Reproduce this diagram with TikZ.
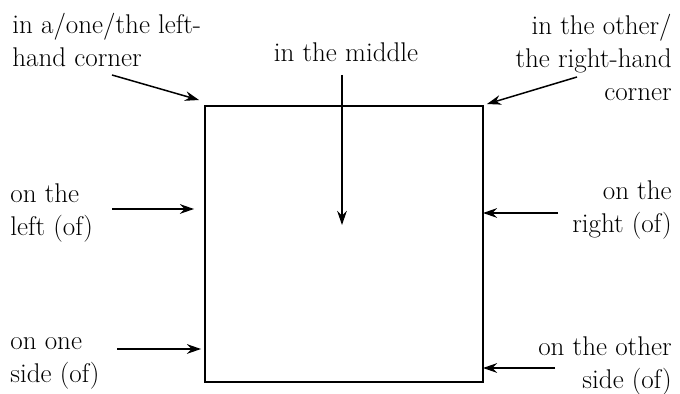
\documentclass[tikz,border=0pt]{standalone}
\usepackage{tikz}
\usetikzlibrary{arrows.meta,positioning,calc}

\begin{document}
\begin{tikzpicture}[
    x=0.02cm, y=-0.02cm,
    box/.style={rectangle, draw=black, line width=0.8pt, minimum width=5.56cm, minimum height=5.52cm, inner sep=0pt, outer sep=0pt},
    lbl/.style={inner sep=0pt, font=\fontsize{15.4}{18.8}\selectfont},
    arrow/.style={-{Stealth[length=8pt,width=5.5pt]}, line width=0.85pt}
]
\useasboundingbox (0,0) rectangle (680,394);

\node[box] (sq) at (344,244) {};

% labels
\node[lbl, anchor=north west, align=left] (lcorner) at (12,13) {in a/one/the left-\\hand corner};
\node[lbl, anchor=north] (middle) at (346,42) {in the middle};
\node[lbl, anchor=north east, align=right] (rcorner) at (672,14) {in the other/\\the right-hand\\corner};
\node[lbl, anchor=north west, align=left] (left) at (10,183) {on the\\left (of)};
\node[lbl, anchor=north east, align=right] (right) at (672,180) {on the\\right (of)};
\node[lbl, anchor=north west, align=left] (oneside) at (10,337) {on one\\side (of)};
\node[lbl, anchor=north east, align=right] (otherside) at (672,336) {on the other\\side (of)};

% arrow tails
\coordinate (lcornerT) at (112,75);
\coordinate (rcornerT) at (577,77);
\coordinate (middleT) at (342,75);
\coordinate (middleH) at (342,225);
\coordinate (leftT) at (112,209);
\coordinate (rightT) at (558,213);
\coordinate (onesideT) at (117,349);
\coordinate (othersideT) at (555,368);

\draw[arrow] (lcornerT) -- ($(sq.north west)+(-6,-6)$);
\draw[arrow] (rcornerT) -- ($(sq.north east)+(4,-2)$);
\draw[arrow] (middleT) -- (middleH);
\draw[arrow] (leftT) -- ($(sq.west |- leftT)+(-11,0)$);
\draw[arrow] (rightT) -- (sq.east |- rightT);
\draw[arrow] (onesideT) -- ($(sq.west |- onesideT)+(-4,0)$);
\draw[arrow] (othersideT) -- (sq.east |- othersideT);

\end{tikzpicture}
\end{document}
